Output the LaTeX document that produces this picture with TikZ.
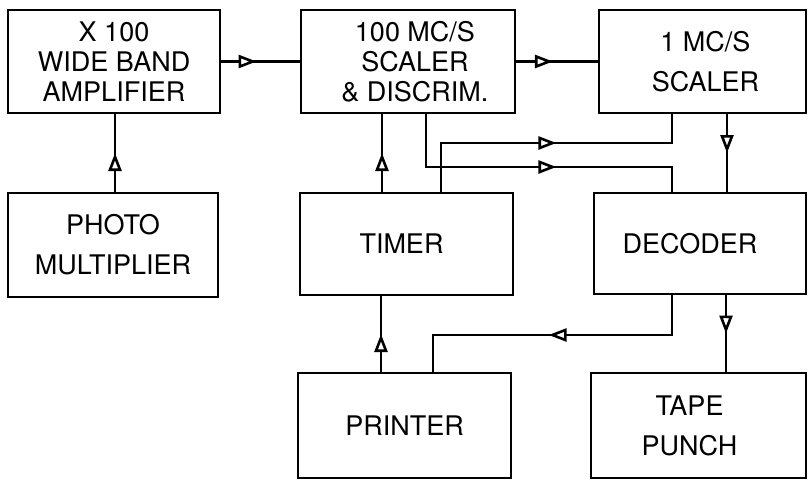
\documentclass[tikz,border=0pt]{standalone}
\usepackage{fontspec}
\setmainfont{TeX Gyre Heros}
\usetikzlibrary{arrows.meta,decorations.markings}
\tikzset{
  blk/.style={draw, line width=2.8pt, align=center, inner sep=0pt,
    font=\fontsize{27}{30}\selectfont},
  wide/.style={font=\fontsize{27}{40}\selectfont},
  conn/.style={line width=2.6pt},
  midarrow/.style={postaction={decorate}, decoration={markings,
    mark=at position #1 with {\arrow{Triangle[fill=white, length=18pt, width=13pt, line width=2.6pt]}}}}
}
\begin{document}
\begin{tikzpicture}[x=1pt,y=-1pt]
\useasboundingbox (0,0) rectangle (809,480);
% boxes
\node[blk, minimum width=212pt, minimum height=103pt] (amp) at (114,61.5) {X 100\\WIDE BAND\\AMPLIFIER};
\node[blk, minimum width=214pt, minimum height=103pt] (sc100) at (408,61.5) {\hspace*{14pt}100 MC/S\\\hspace*{14pt}SCALER\\\hspace*{14pt}\& DISCRIM.};
\node[blk, wide, minimum width=207pt, minimum height=103pt] (sc1) at (702.5,61.5) {\hspace*{6pt}1 MC/S\\\hspace*{6pt}SCALER};
\node[blk, wide, minimum width=210pt, minimum height=104pt] (photo) at (113,245) {PHOTO\\MULTIPLIER};
\node[blk, minimum width=213pt, minimum height=102pt] (timer) at (406.5,244) {\hspace*{-10pt}TIMER};
\node[blk, minimum width=212pt, minimum height=101pt] (dec) at (700,243.5) {\hspace*{-20pt}DECODER};
\node[blk, minimum width=213pt, minimum height=105pt] (printer) at (404.5,425.5) {PRINTER};
\node[blk, wide, minimum width=215pt, minimum height=105pt] (tape) at (698.5,425.5) {\hspace*{-18pt}TAPE\\\hspace*{-18pt}PUNCH};
% helper coordinates
\coordinate (x115) at (115,0);
\coordinate (x382) at (382,0);
\coordinate (x381) at (381,0);
\coordinate (x727) at (727,0);
\coordinate (x726) at (726,0);
\coordinate (x441) at (441,0);
\coordinate (x426) at (426,0);
\coordinate (x433) at (433,0);
\coordinate (x672) at (672,0);
\coordinate (y143) at (0,143);
\coordinate (y167) at (0,167);
\coordinate (y335) at (0,335);
% connectors
\draw[conn, midarrow=0.45] (amp) -- (sc100);
\draw[conn, midarrow=0.45] (sc100) -- (sc1);
\draw[conn, midarrow=0.5] (photo.north -| x115) -- (amp.south -| x115);
\draw[conn, midarrow=0.5] (timer.north -| x382) -- (sc100.south -| x382);
\draw[conn, midarrow=0.5] (printer.north -| x381) -- (timer.south -| x381);
\draw[conn, midarrow=0.5] (sc1.south -| x727) -- (dec.north -| x727);
\draw[conn, midarrow=0.5] (dec.south -| x726) -- (tape.north -| x726);
\draw[conn, midarrow=164pt] (timer.north -| x441) -- (x441 |- y143) -- (x672 |- y143) -- (sc1.south -| x672);
\draw[conn, midarrow=183pt] (sc100.south -| x426) -- (x426 |- y167) -- (x672 |- y167) -- (dec.north -| x672);
\draw[conn, midarrow=163pt] (dec.south -| x672) -- (x672 |- y335) -- (x433 |- y335) -- (printer.north -| x433);
\end{tikzpicture}
\end{document}
